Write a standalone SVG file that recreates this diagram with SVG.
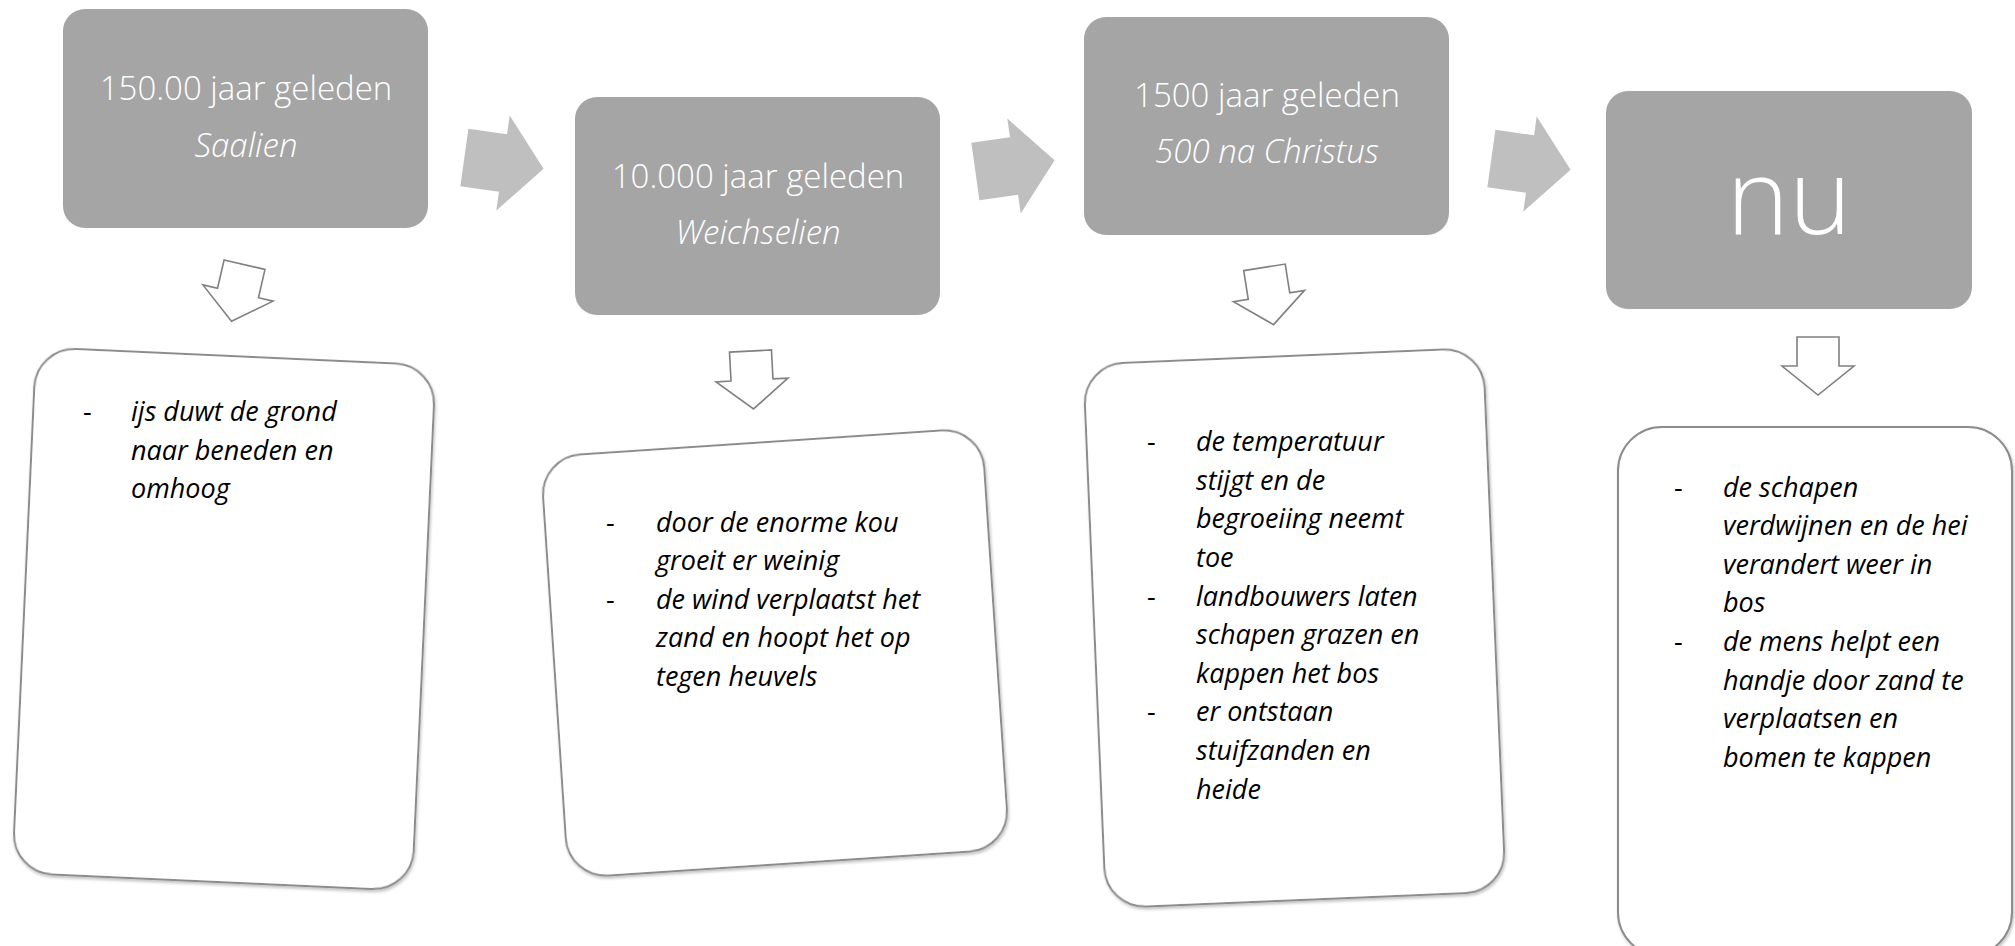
<svg xmlns="http://www.w3.org/2000/svg" width="2015" height="946" viewBox="0 0 2015 946">
<defs>
<style>
.hdr{fill:#a5a5a5}
.ht{font-family:"Open Sans","Liberation Sans",sans-serif;font-weight:300;font-size:33px;fill:#ffffff;text-anchor:middle}
.hi{font-style:italic}
.nu{font-size:106px}
.card{fill:#ffffff;stroke:#8c8c8c;stroke-width:2;filter:url(#sh)}
.bt{font-family:"Open Sans","Liberation Sans",sans-serif;font-style:italic;font-size:27px;fill:#000000}
.dash{font-family:"Open Sans","Liberation Sans",sans-serif;font-size:27px;fill:#000000}
.ra{fill:#bfbfbf}
.da{fill:#ffffff;stroke:#808080;stroke-width:1.6;stroke-linejoin:miter}
</style>
<filter id="sh" x="-5%" y="-5%" width="110%" height="110%">
<feDropShadow dx="1" dy="2" stdDeviation="1.5" flood-color="#000" flood-opacity="0.25"/>
</filter>
<path id="rarrow" d="M-39,-29 L0,-29 L0,-48 L41,0 L0,48 L0,29 L-39,29 Z"/>
<path id="darrow" d="M-21,-29 L21,-29 L21,0 L36,0 L0,29 L-36,0 L-21,0 Z"/>
</defs>
<rect width="2015" height="946" fill="#ffffff"/>

<g id="connectors">
<use href="#rarrow" class="ra" transform="translate(503,163) rotate(8)"/>
<use href="#rarrow" class="ra" transform="translate(1014,166) rotate(-8)"/>
<use href="#rarrow" class="ra" transform="translate(1530,164) rotate(8)"/>
<use href="#darrow" class="da" transform="translate(238,293) rotate(13)"/>
<use href="#darrow" class="da" transform="translate(752,380) rotate(-3)"/>
<use href="#darrow" class="da" transform="translate(1269,296) rotate(-9)"/>
<use href="#darrow" class="da" transform="translate(1818,366)"/>
</g>

<g id="node1">
<rect class="hdr" x="63" y="9" width="365" height="219" rx="22"/>
<text class="ht" x="246" y="100">150.00 jaar geleden</text>
<text class="ht hi" x="246" y="157">Saalien</text>
</g>
<g id="node2">
<rect class="hdr" x="575" y="97" width="365" height="218" rx="22"/>
<text class="ht" x="758" y="188">10.000 jaar geleden</text>
<text class="ht hi" x="758" y="244">Weichselien</text>
</g>
<g id="node3">
<rect class="hdr" x="1084" y="17" width="365" height="218" rx="22"/>
<text class="ht" x="1267" y="107">1500 jaar geleden</text>
<text class="ht hi" x="1267" y="163">500 na Christus</text>
</g>
<g id="node4">
<rect class="hdr" x="1606" y="91" width="366" height="218" rx="22"/>
<text class="ht nu" x="1789" y="234">nu</text>
</g>

<g id="detail1">
<rect class="card" x="-200" y="-263" width="400" height="526" rx="40" transform="translate(224,619) rotate(2.6)"/>
<text class="dash" x="83" y="421">-</text>
<text class="bt" x="131" y="421">ijs duwt de grond</text>
<text class="bt" x="131" y="460">naar beneden en</text>
<text class="bt" x="131" y="498">omhoog</text>
</g>
<g id="detail2">
<rect class="card" x="-221" y="-211" width="442" height="422" rx="40" transform="translate(775,653) rotate(-3.8)"/>
<text class="dash" x="606" y="532">-</text>
<text class="bt" x="656" y="532">door de enorme kou</text>
<text class="bt" x="656" y="570">groeit er weinig</text>
<text class="dash" x="606" y="609">-</text>
<text class="bt" x="656" y="609">de wind verplaatst het</text>
<text class="bt" x="656" y="647">zand en hoopt het op</text>
<text class="bt" x="656" y="686">tegen heuvels</text>
</g>
<g id="detail3">
<rect class="card" x="-200" y="-272" width="400" height="544" rx="40" transform="translate(1294.5,628) rotate(-2.4)"/>
<text class="dash" x="1147" y="451">-</text>
<text class="bt" x="1196" y="451">de temperatuur</text>
<text class="bt" x="1196" y="490">stijgt en de</text>
<text class="bt" x="1196" y="528">begroeiing neemt</text>
<text class="bt" x="1196" y="567">toe</text>
<text class="dash" x="1147" y="606">-</text>
<text class="bt" x="1196" y="606">landbouwers laten</text>
<text class="bt" x="1196" y="644">schapen grazen en</text>
<text class="bt" x="1196" y="683">kappen het bos</text>
<text class="dash" x="1147" y="721">-</text>
<text class="bt" x="1196" y="721">er ontstaan</text>
<text class="bt" x="1196" y="760">stuifzanden en</text>
<text class="bt" x="1196" y="799">heide</text>
</g>
<g id="detail4">
<rect class="card" x="1618" y="427" width="394" height="529" rx="44"/>
<text class="dash" x="1674" y="497">-</text>
<text class="bt" x="1723" y="497">de schapen</text>
<text class="bt" x="1723" y="535">verdwijnen en de hei</text>
<text class="bt" x="1723" y="574">verandert weer in</text>
<text class="bt" x="1723" y="612">bos</text>
<text class="dash" x="1674" y="651">-</text>
<text class="bt" x="1723" y="651">de mens helpt een</text>
<text class="bt" x="1723" y="690">handje door zand te</text>
<text class="bt" x="1723" y="728">verplaatsen en</text>
<text class="bt" x="1723" y="767">bomen te kappen</text>
</g>
</svg>
